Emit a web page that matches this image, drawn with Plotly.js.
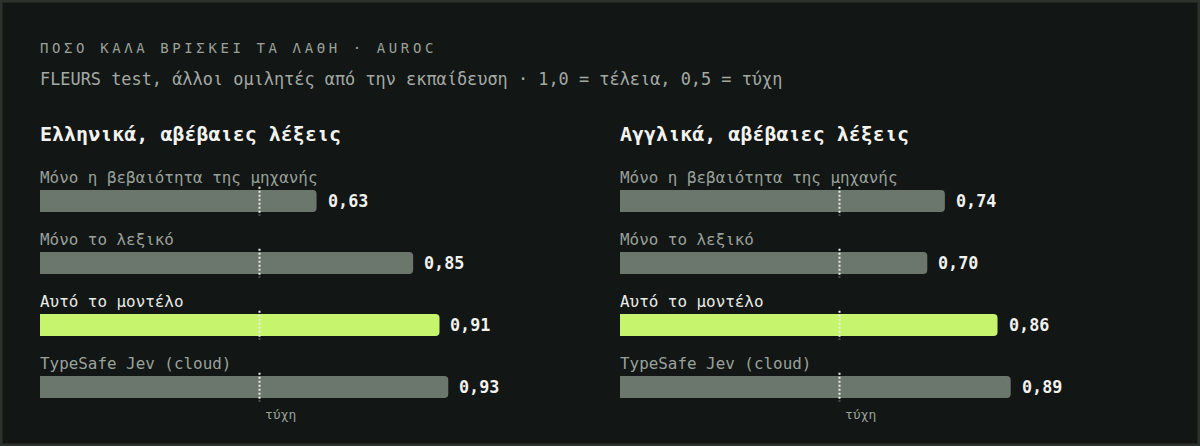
<!DOCTYPE html>
<html>
<head>
<meta charset="utf-8">
<script src="https://cdn.plot.ly/plotly-3.0.1.min.js"></script>
<style>
  html, body { margin: 0; padding: 0; background: #121614; }
  #chart { width: 1200px; height: 446px; }
  /* spaced-out caps for the small title line */
  #chart g.annotation[data-index="0"] text { letter-spacing: 3.6px; }
</style>
</head>
<body>
<div id="chart"></div>
<script>
// data
const categories = ['Μόνο η βεβαιότητα της μηχανής', 'Μόνο το λεξικό', 'Αυτό το μοντέλο', 'TypeSafe Jev (cloud)'];
const greekAuroc = [0.63, 0.85, 0.91, 0.93];
const englishAuroc = [0.74, 0.70, 0.86, 0.89];
const chanceLevel = 0.5;
const chanceLabel = 'τύχη';
const panelTitles = ['Ελληνικά, αβέβαιες λέξεις', 'Αγγλικά, αβέβαιες λέξεις'];
const ownModel = 'Αυτό το μοντέλο';
const chartTitle = 'ΠΟΣΟ ΚΑΛΑ ΒΡΙΣΚΕΙ ΤΑ ΛΑΘΗ · AUROC';
const chartSubtitle = 'FLEURS test, άλλοι ομιλητές από την εκπαίδευση · 1,0 = τέλεια, 0,5 = τύχη';

const MONO = '"DejaVu Sans Mono", "Liberation Mono", monospace';
const W = 1200, H = 446;
const GREY_BAR = '#6b776d';
const LIME_BAR = '#c6f46c';

document.addEventListener("DOMContentLoaded", function () {
    drawChart();
});

function fmt(v) {
    return v.toFixed(2).replace('.', ',');
}

function py(px) {
    return 1 - px / H;
}

function drawChart() {
    const rows = categories.map((c, i) => i);
    const colors = categories.map(c => c === ownModel ? LIME_BAR : GREY_BAR);

    const panels = [
        { values: greekAuroc, xa: 'x', xref: 'x', left: 40 },
        { values: englishAuroc, xa: 'x2', xref: 'x2', left: 620 }
    ];

    const traces = panels.map(p => ({
        type: 'bar',
        orientation: 'h',
        x: p.values,
        y: rows,
        xaxis: p.xa,
        yaxis: 'y',
        width: 0.355,
        marker: { color: colors, cornerradius: 4, line: { width: 0 } },
        hoverinfo: 'skip'
    }));

    const annotations = [
        {
            text: chartTitle, xref: 'paper', yref: 'paper', x: 40 / W, y: py(48),
            xanchor: 'left', yanchor: 'middle', align: 'left', showarrow: false,
            borderwidth: 0, borderpad: 0,
            font: { family: MONO, size: 14, color: '#9aa19b' }
        },
        {
            text: chartSubtitle, xref: 'paper', yref: 'paper', x: 40 / W, y: py(79),
            xanchor: 'left', yanchor: 'middle', align: 'left', showarrow: false,
            borderwidth: 0, borderpad: 0,
            font: { family: MONO, size: 16.9, color: '#a3a9a4' }
        }
    ];

    const shapes = [{
        type: 'rect', xref: 'paper', yref: 'paper', x0: 0, x1: 1, y0: 0, y1: 1,
        line: { color: '#2c332e', width: 5 }, fillcolor: 'rgba(0,0,0,0)'
    }];

    panels.forEach((p, k) => {
        annotations.push({
            text: panelTitles[k], xref: 'paper', yref: 'paper', x: p.left / W, y: py(134),
            xanchor: 'left', yanchor: 'middle', align: 'left', showarrow: false,
            borderwidth: 0, borderpad: 0,
            font: { family: MONO, size: 20, color: '#f2f3ef', weight: 'bold' }
        });

        categories.forEach((c, i) => {
            // row label above the bar
            annotations.push({
                text: c, xref: p.xref, yref: 'y', x: 0, y: i, yshift: 24,
                xanchor: 'left', yanchor: 'middle', align: 'left', showarrow: false,
                borderwidth: 0, borderpad: 0,
                font: { family: MONO, size: 15.9, color: c === ownModel ? '#e9ece6' : '#9aa19b' }
            });
            // value at the end of the bar
            annotations.push({
                text: fmt(p.values[i]), xref: p.xref, yref: 'y', x: p.values[i], y: i, xshift: 11,
                xanchor: 'left', yanchor: 'middle', align: 'left', showarrow: false,
                borderwidth: 0, borderpad: 0,
                font: { family: MONO, size: 16.8, color: '#f1f2ee', weight: 'bold' }
            });
            // chance marker through each bar
            shapes.push({
                type: 'line', xref: p.xref, yref: 'y',
                x0: chanceLevel, x1: chanceLevel, y0: i - 0.23, y1: i + 0.23,
                line: { color: '#eceee8', width: 2, dash: '2px,2px' }
            });
        });

        annotations.push({
            text: chanceLabel, xref: p.xref, yref: 'y', x: chanceLevel, y: rows.length - 1,
            xshift: 5, yshift: -27,
            xanchor: 'left', yanchor: 'middle', align: 'left', showarrow: false,
            borderwidth: 0, borderpad: 0,
            font: { family: MONO, size: 13, color: '#9aa19b' }
        });
    });

    const hidden = { visible: false, showgrid: false, zeroline: false, fixedrange: true };

    const layout = {
        width: W,
        height: H,
        margin: { l: 0, r: 0, t: 0, b: 0, pad: 0 },
        paper_bgcolor: '#121614',
        plot_bgcolor: 'rgba(0,0,0,0)',
        showlegend: false,
        hovermode: false,
        barmode: 'overlay',
        xaxis: Object.assign({}, hidden, { domain: [40 / W, 479 / W], range: [0, 1] }),
        xaxis2: Object.assign({}, hidden, { domain: [620 / W, 1059 / W], range: [0, 1], anchor: 'y' }),
        yaxis: Object.assign({}, hidden, { domain: [py(418), py(139)], range: [3.5, -1] }),
        annotations: annotations,
        shapes: shapes
    };

    Plotly.newPlot('chart', traces, layout, { staticPlot: true, displayModeBar: false });
}
</script>
</body>
</html>
